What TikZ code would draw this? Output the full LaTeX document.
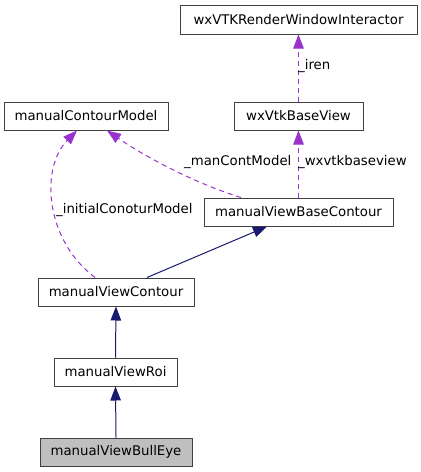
\documentclass[tikz,border=0pt]{standalone}
\usepackage{fontspec}
\setmainfont{DejaVu Sans}
\usetikzlibrary{arrows.meta}
\definecolor{edgepurple}{HTML}{9A32CD}
\definecolor{edgenavy}{HTML}{191970}
\definecolor{boxborder}{HTML}{404040}
\definecolor{boxgray}{HTML}{BFBFBF}
\begin{document}
\begin{tikzpicture}[x=1pt,y=-1pt,
  cls/.style={draw=boxborder,line width=1pt,fill=white,rectangle,inner sep=0pt,minimum height=28pt,
    font=\fontsize{13.3}{16}\selectfont,text=black},
  usage/.style={draw=edgepurple,line width=1pt,dash pattern=on 5pt off 4pt,
    -{Triangle[length=14pt,width=10.5pt,fill=edgepurple]}},
  inherit/.style={draw=edgenavy,line width=1pt,
    -{Triangle[length=14pt,width=10.5pt,fill=edgenavy]}},
  lbl/.style={font=\fontsize{13.3}{16}\selectfont,inner sep=0pt,anchor=west,text=black}]
\useasboundingbox (0,0) rectangle (421,472);
\fill[white] (0,0) rectangle (421,472);
\node[cls,minimum width=237pt,minimum height=29pt] (wxrwi) at (298.5,19.5) {wxVTKRenderWindowInteractor};
\node[cls,minimum width=164pt] (mcm) at (86,116) {manualContourModel};
\node[cls,minimum width=129pt] (wxbv) at (298.5,116) {wxVtkBaseView};
\node[cls,minimum width=189pt] (mvbc) at (298.5,212) {manualViewBaseContour};
\node[cls,minimum width=156pt] (mvc) at (116,292) {manualViewContour};
\node[cls,minimum width=123pt] (mvr) at (115.5,372) {manualViewRoi};
\node[cls,minimum width=152pt,fill=boxgray] (mvbe) at (116,452) {manualViewBullEye};

\draw[usage] (wxbv.north) -- (wxrwi.south);
\draw[usage] (mvbc.north) -- (wxbv.south);
\draw[usage] ([xshift=-57.5pt]mvbc.north) .. controls (200,185) and (150,160) .. ([xshift=21pt]mcm.south);
\draw[usage] ([xshift=-21pt]mvc.north) .. controls (45,240) and (40,168) .. ([xshift=-9pt]mcm.south);
\draw[inherit] ([xshift=31pt]mvc.north) -- ([xshift=-31.5pt]mvbc.south);
\draw[inherit] (mvr.north) -- (mvc.south);
\draw[inherit] (mvbe.north) -- (mvr.south);

\node[lbl] (liren) at (298,66) {\_iren};
\node[lbl] (lwx) at (298,162) {\_wxvtkbaseview};
\node[lbl] (lman) at (184,162) {\_manContModel};
\node[lbl] (linit) at (56,210) {\_initialConoturModel};
\end{tikzpicture}
\end{document}
